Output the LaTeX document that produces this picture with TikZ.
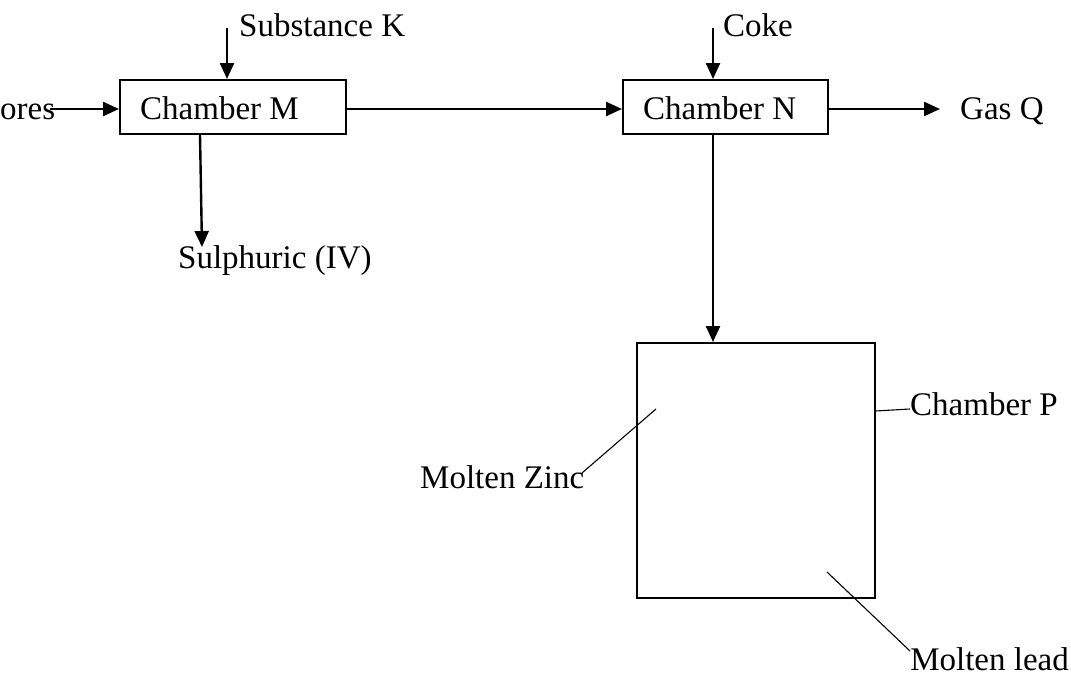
\documentclass[tikz,border=0pt]{standalone}
\usepackage{fontspec}
\setmainfont{Liberation Serif}
\usetikzlibrary{arrows.meta}
\begin{document}
\begin{tikzpicture}[x=1pt,y=-1pt,
  lbl/.style={anchor=base west,inner sep=0pt,font=\fontsize{33}{40}\selectfont},
  chamber/.style={draw,line width=1.5pt,anchor=north west,inner sep=0pt},
  flow/.style={line width=2.4pt,-{Triangle[length=16pt,width=14pt]}},
  leader/.style={line width=1.1pt}]
\useasboundingbox (0,0) rectangle (1071,675);
% boxes
\node[chamber,minimum width=226pt,minimum height=54pt] (M) at (119,79) {};
\node[chamber,minimum width=205pt,minimum height=54pt] (N) at (622,79) {};
\node[chamber,minimum width=238pt,minimum height=255pt] (P) at (636,342) {};
% texts
\node[lbl] (tM) at (140,119) {Chamber M};
\node[lbl] (tN) at (643,119) {Chamber N};
\node[lbl] (ores) at (0,119) {ores};
\node[lbl] (K) at (239,36) {Substance K};
\node[lbl] (coke) at (723,36) {Coke};
\node[lbl] (Q) at (960,119) {Gas Q};
\node[lbl] (S) at (178,268) {Sulphuric (IV)};
\node[lbl] (Zn) at (420,488) {Molten Zinc};
\node[lbl] (tP) at (910,415) {Chamber P};
\node[lbl,anchor=base east] (Pb) at (1069,670) {Molten lead};
% free ends
\coordinate (kTop) at (227,28);
\coordinate (cTop) at (713,28);
\coordinate (oreStart) at (50,109);
\coordinate (sTip) at (202,247);
\coordinate (qTip) at (940,109);
\coordinate (znIn) at (656,409);
\coordinate (znOut) at (582,473);
\coordinate (pbIn) at (827,572);
\coordinate (pbOut) at (910,651);
% flows
\draw[flow] (kTop) -- (kTop |- M.north);
\draw[flow] (cTop) -- (cTop |- N.north);
\draw[flow] (oreStart) -- (M.west |- oreStart);
\draw[flow] (M.east |- oreStart) -- (N.west |- oreStart);
\draw[flow] (N.east |- qTip) -- (qTip);
\draw[flow] (sTip |- M.south) ++(-2,0) -- (sTip);
\draw[flow] (cTop |- N.south) -- (cTop |- P.north);
% leaders
\draw[leader] (znOut) -- (znIn);
\draw[leader] (P.east |- 0,411) -- (910,409);
\draw[leader] (pbIn) -- (pbOut);
\end{tikzpicture}
\end{document}
